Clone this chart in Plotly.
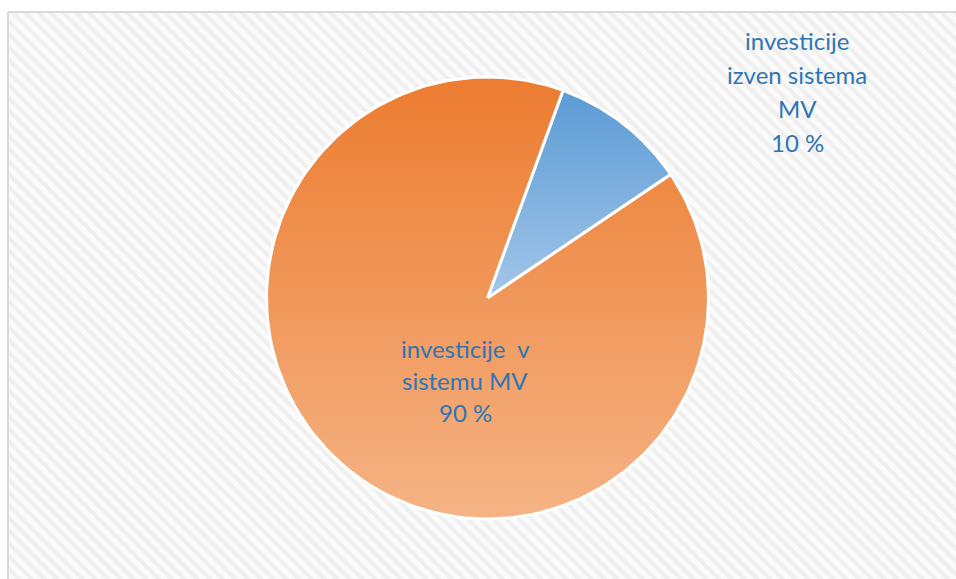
import numpy as np
import plotly.graph_objects as go

# Share of investments
labels = ["investicije izven sistema MV", "investicije v sistemu MV"]
values = [10, 90]
label_lines = [["investicije", "izven sistema", "MV", "10 %"],
               ["investicije  v", "sistemu MV", "90 %"]]

# Colour ramps for each slice (top colour, bottom colour)
ramps = [("#5B9BD5", "#A2C6E8"), ("#EC7C30", "#F5B385")]

W, H = 956, 579
CX, CY, R = 487.5, 298, 221
ROTATION = 20  # degrees clockwise from 12 o'clock where the first slice starts

fig = go.Figure()

# hatched chart area
fig.add_trace(go.Scatter(
    x=[8, 960, 960, 8, 8], y=[12, 12, 590, 590, 12],
    mode="lines", fill="toself",
    line=dict(color="#d9d9d9", width=2),
    fillcolor="#fbfbfb",
    fillpattern=dict(shape="\\", fgcolor="#e4e4e4", bgcolor="#fbfbfb",
                     size=9, solidity=0.45),
    hoverinfo="skip", showlegend=False,
))

total = float(sum(values))
start = ROTATION
for val, (c_top, c_bot) in zip(values, ramps):
    span = 360.0 * val / total
    th = np.radians(np.linspace(start, start + span, 200))
    xs = np.concatenate([[CX], CX + R * np.sin(th), [CX]])
    ys = np.concatenate([[CY], CY - R * np.cos(th), [CY]])
    fig.add_trace(go.Scatter(
        x=xs, y=ys, mode="lines", fill="toself",
        line=dict(color="white", width=3),
        fillgradient=dict(type="vertical",
                          colorscale=[[0, c_top], [1, c_bot]],
                          start=float(ys.min()), stop=float(ys.max())),
        hoverinfo="skip", showlegend=False,
    ))
    start += span

# slice labels
label_pos = [(797, 40, 34), (465, 348, 32)]
for lines, (lx, ly, step) in zip(label_lines, label_pos):
    for i, t in enumerate(lines):
        fig.add_annotation(x=lx, y=ly + i * step, text=t, showarrow=False,
                           xref="x", yref="y", xanchor="center", yanchor="middle",
                           font=dict(family="Lato", size=24, color="#2F75B5"))

fig.update_layout(
    width=W, height=H,
    margin=dict(l=0, r=0, t=0, b=0),
    paper_bgcolor="white", plot_bgcolor="white",
    xaxis=dict(range=[0, W], visible=False, fixedrange=True),
    yaxis=dict(range=[H, 0], visible=False, fixedrange=True),
    showlegend=False,
)

fig.write_html("out.html")
